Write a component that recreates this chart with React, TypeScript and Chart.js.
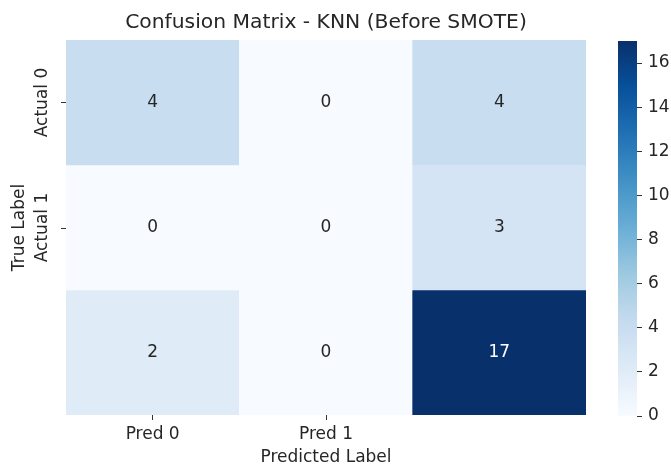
import React, { useEffect, useRef } from "react";
import { Chart, registerables } from "chart.js";

Chart.register(...registerables);

const titleText = "Confusion Matrix - KNN (Before SMOTE)";
const predLabels = ["Pred 0", "Pred 1", ""];
const actualLabels = ["Actual 0", "Actual 1", ""];
const row0 = [4, 0, 4];
const row1 = [0, 0, 3];
const row2 = [2, 0, 17];
const matrix = [row0, row1, row2];
const colorbarTicks = [0, 2, 4, 6, 8, 10, 12, 14, 16];

const BLUES = ["#f7fbff", "#deebf7", "#c6dbef", "#9ecae1", "#6baed6", "#4292c6", "#2171b5", "#08519c", "#08306b"];
const FONT = "'DejaVu Sans', sans-serif";
const TEXT = "#262626";
const FS = 17;

const VMIN = 0;
const VMAX = Math.max(...matrix.flat());

function hexToRgb(h: string) {
  const n = parseInt(h.slice(1), 16);
  return [(n >> 16) & 255, (n >> 8) & 255, n & 255];
}
function blues(t: number) {
  const c = Math.max(0, Math.min(1, t));
  const pos = c * (BLUES.length - 1);
  const i = Math.min(Math.floor(pos), BLUES.length - 2);
  const f = pos - i;
  const a = hexToRgb(BLUES[i]);
  const b = hexToRgb(BLUES[i + 1]);
  const r = a.map((v, k) => Math.round(v + (b[k] - v) * f));
  return `rgb(${r[0]},${r[1]},${r[2]})`;
}
function colorFor(v: number) {
  return blues((v - VMIN) / (VMAX - VMIN));
}

const heatPlugin = {
  id: "heatAnnot",
  afterDatasetsDraw(chart: any) {
    const ctx = chart.ctx;
    ctx.save();
    ctx.font = `${FS}px ${FONT}`;
    ctx.textAlign = "center";
    ctx.textBaseline = "middle";
    chart.data.datasets.forEach((ds: any, di: number) => {
      const meta = chart.getDatasetMeta(di);
      meta.data.forEach((el: any, ci: number) => {
        const v = matrix[ds.rowIndex][ci];
        const t = (v - VMIN) / (VMAX - VMIN);
        ctx.fillStyle = t > 0.6 ? "#ffffff" : TEXT;
        ctx.fillText(String(v), el.x, (el.y + el.base) / 2);
      });
    });
    ctx.restore();
  },
  afterDraw(chart: any) {
    const ctx = chart.ctx;
    const y = chart.scales.y;
    const { left, right } = chart.chartArea;
    ctx.save();
    // title centred over the heatmap
    ctx.font = `20.3px ${FONT}`;
    ctx.fillStyle = TEXT;
    ctx.textAlign = "center";
    ctx.textBaseline = "middle";
    ctx.fillText(titleText, (left + right) / 2, 23);

    ctx.font = `${FS}px ${FONT}`;
    ctx.strokeStyle = "#333333";
    ctx.lineWidth = 1;
    actualLabels.forEach((lab, r) => {
      if (!lab) return;
      const py = y.getPixelForValue(matrix.length - r - 0.5);
      ctx.beginPath();
      ctx.moveTo(left - 5, Math.round(py) + 0.5);
      ctx.lineTo(left, Math.round(py) + 0.5);
      ctx.stroke();
      ctx.save();
      ctx.translate(left - 23, py);
      ctx.rotate(-Math.PI / 2);
      ctx.textAlign = "center";
      ctx.textBaseline = "middle";
      ctx.fillText(lab, 0, 0);
      ctx.restore();
    });
    ctx.restore();
  },
};

export default function App() {
  const mainRef = useRef<HTMLCanvasElement>(null);
  const cbRef = useRef<HTMLCanvasElement>(null);

  useEffect(() => {
    document.body.style.margin = "0";
    const datasets = matrix.map((row, r) => ({
      rowIndex: r,
      data: row.map(() => [matrix.length - r - 1, matrix.length - r]),
      backgroundColor: row.map((v) => colorFor(v)),
      borderWidth: 0,
      barPercentage: 1,
      categoryPercentage: 1,
      grouped: false,
    }));
    const main = new Chart(mainRef.current!, {
      type: "bar",
      data: { labels: predLabels, datasets: datasets as any },
      options: {
        animation: false,
        responsive: false,
        maintainAspectRatio: false,
        layout: { padding: { left: 0, right: 85, top: 40, bottom: 0 } },
        plugins: {
          legend: { display: false },
          tooltip: { enabled: false },
          title: { display: false },
        },
        scales: {
          x: {
            type: "category",
            offset: true,
            grid: {
              display: true,
              offset: false,
              drawOnChartArea: false,
              drawTicks: true,
              tickLength: 5,
              tickColor: (c: any) => (predLabels[c.index] ? "#333333" : "rgba(0,0,0,0)"),
            },
            border: { display: false },
            ticks: { color: TEXT, font: { family: FONT, size: FS }, padding: 4, maxRotation: 0 },
            title: {
              display: true,
              text: "Predicted Label",
              color: TEXT,
              font: { family: FONT, size: FS, lineHeight: 1 },
              padding: { top: 0, bottom: 0 },
            },
            afterFit: (s: any) => { s.height = 51; },
          },
          y: {
            type: "linear",
            min: 0,
            max: matrix.length,
            grid: { display: false },
            border: { display: false },
            ticks: { display: false },
            title: {
              display: true,
              text: "True Label",
              color: TEXT,
              font: { family: FONT, size: FS },
              padding: { top: 9, bottom: 0 },
            },
            afterFit: (s: any) => { s.width = 66; },
          },
        },
      },
      plugins: [heatPlugin],
    });

    const cb = new Chart(cbRef.current!, {
      type: "bar",
      data: {
        labels: ["cb"],
        datasets: [
          {
            data: [[VMIN, VMAX]],
            backgroundColor: (c: any) => {
              const chart = c.chart;
              const ys = chart.scales.y;
              if (!ys || !chart.chartArea) return BLUES[4];
              const g = chart.ctx.createLinearGradient(0, ys.getPixelForValue(VMIN), 0, ys.getPixelForValue(VMAX));
              for (let i = 0; i <= 40; i++) g.addColorStop(i / 40, blues(i / 40));
              return g;
            },
            borderWidth: 0,
            barPercentage: 1,
            categoryPercentage: 1,
          } as any,
        ],
      },
      options: {
        animation: false,
        responsive: false,
        maintainAspectRatio: false,
        layout: { padding: { left: 18, right: 0, top: 41, bottom: 50 } },
        plugins: { legend: { display: false }, tooltip: { enabled: false }, title: { display: false } },
        scales: {
          x: { display: false, offset: true },
          y: {
            type: "linear",
            position: "right",
            min: VMIN,
            max: VMAX,
            afterBuildTicks: (s: any) => { s.ticks = colorbarTicks.map((v) => ({ value: v })); },
            grid: { display: true, drawOnChartArea: false, drawTicks: true, tickLength: 5, tickColor: "#333333" },
            border: { display: false },
            ticks: { color: TEXT, font: { family: FONT, size: FS }, padding: 6 },
            afterFit: (s: any) => { s.width = 34; },
          },
        },
      },
    });

    return () => {
      main.destroy();
      cb.destroy();
    };
  }, []);

  return (
    <div style={{ position: "relative", width: 671, height: 466, background: "#fff" }}>
      <canvas ref={mainRef} width={671} height={466} style={{ position: "absolute", left: 0, top: 0 }} />
      <canvas ref={cbRef} width={71} height={466} style={{ position: "absolute", left: 600, top: 0 }} />
    </div>
  );
}
